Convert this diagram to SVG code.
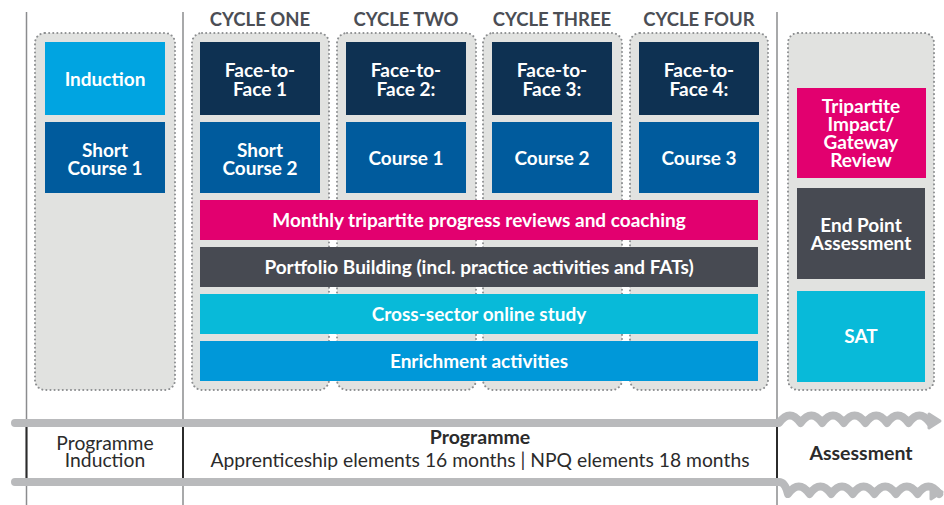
<svg xmlns="http://www.w3.org/2000/svg" width="944" height="505" viewBox="0 0 944 505">
<style>
.cont{fill:#e1e2e0;stroke:#8d8f91;stroke-width:2;stroke-dasharray:0.1 4;stroke-linecap:round}
.bt{font-family:Lato,"Open Sans",sans-serif;font-weight:bold;font-size:19px;fill:#fff;text-anchor:middle}
.hd{font-family:Lato,"Open Sans",sans-serif;font-weight:bold;font-size:18.5px;fill:#4b4e55;text-anchor:middle}
.ft{font-family:Lato,"Open Sans",sans-serif;font-size:19.3px;fill:#2b2b2b;text-anchor:middle}
.fb{font-family:Lato,"Open Sans",sans-serif;font-size:19.5px;font-weight:bold;fill:#2b2b2b;text-anchor:middle}
.vl{stroke:#8b8c8e;stroke-width:1.5}
.vd{stroke:#2b2b2b;stroke-width:2}
.gl{stroke:#b9babc;stroke-width:8;stroke-linecap:round;fill:none;stroke-linejoin:round}
</style>
<rect width="944" height="505" fill="#fff"/>
<g id="grid">
<line class="vl" x1="26.5" y1="12" x2="26.5" y2="505"/>
<line class="vl" x1="183" y1="12" x2="183" y2="505"/>
<line class="vl" x1="777" y1="12" x2="777" y2="505"/>
<line class="vd" x1="26.5" y1="427" x2="26.5" y2="478"/>
<line class="vd" x1="183" y1="427" x2="183" y2="478"/>
<line class="vd" x1="777" y1="427" x2="777" y2="478"/>
</g>
<g id="headers">
<text class="hd" x="260" y="26">CYCLE ONE</text>
<text class="hd" x="406" y="26">CYCLE TWO</text>
<text class="hd" x="552" y="26">CYCLE THREE</text>
<text class="hd" x="699" y="26">CYCLE FOUR</text>
</g>
<g id="containers">
<rect class="cont" x="35" y="33" width="140" height="357" rx="10"/>
<rect class="cont" x="192" y="33" width="137" height="357" rx="10"/>
<rect class="cont" x="337" y="33" width="139" height="357" rx="10"/>
<rect class="cont" x="483" y="33" width="139" height="357" rx="10"/>
<rect class="cont" x="630" y="33" width="138" height="357" rx="10"/>
<rect class="cont" x="788" y="33" width="146" height="357" rx="10"/>
</g>
<g id="induction"><rect x="45" y="42" width="120" height="73" fill="#00a4e1"/><text class="bt" x="105" y="86">Induction</text></g>
<g id="short-course-1"><rect x="45" y="122" width="120" height="71" fill="#005b9d"/><text class="bt" x="105" y="157">Short</text><text class="bt" x="105" y="175">Course 1</text></g>
<g id="f2f1"><rect x="200" y="42" width="120" height="73" fill="#0e3152"/><text class="bt" x="260" y="77">Face-to-</text><text class="bt" x="260" y="96">Face 1</text></g>
<g id="short-course-2"><rect x="200" y="122" width="120" height="71" fill="#005b9d"/><text class="bt" x="260" y="157">Short</text><text class="bt" x="260" y="175">Course 2</text></g>
<g id="f2f2"><rect x="346" y="42" width="120" height="73" fill="#0e3152"/><text class="bt" x="406" y="77">Face-to-</text><text class="bt" x="406" y="96">Face 2:</text></g>
<g id="course-1"><rect x="346" y="122" width="120" height="71" fill="#005b9d"/><text class="bt" x="406" y="165">Course 1</text></g>
<g id="f2f3"><rect x="492" y="42" width="120" height="73" fill="#0e3152"/><text class="bt" x="552" y="77">Face-to-</text><text class="bt" x="552" y="96">Face 3:</text></g>
<g id="course-2"><rect x="492" y="122" width="120" height="71" fill="#005b9d"/><text class="bt" x="552" y="165">Course 2</text></g>
<g id="f2f4"><rect x="639" y="42" width="120" height="73" fill="#0e3152"/><text class="bt" x="699" y="77">Face-to-</text><text class="bt" x="699" y="96">Face 4:</text></g>
<g id="course-3"><rect x="639" y="122" width="120" height="71" fill="#005b9d"/><text class="bt" x="699" y="165">Course 3</text></g>
<g id="monthly"><rect x="200" y="200" width="558" height="40" fill="#e2006f"/><text class="bt" x="479" y="227">Monthly tripartite progress reviews and coaching</text></g>
<g id="portfolio"><rect x="200" y="247" width="558" height="40" fill="#474a52"/><text class="bt" x="479" y="274">Portfolio Building (incl. practice activities and FATs)</text></g>
<g id="cross-sector"><rect x="200" y="294" width="558" height="40" fill="#08bad9"/><text class="bt" x="479" y="321">Cross-sector online study</text></g>
<g id="enrichment"><rect x="200" y="341" width="558" height="40" fill="#0098d9"/><text class="bt" x="479" y="368">Enrichment activities</text></g>
<g id="tripartite"><rect x="797" y="88" width="129" height="90" fill="#e2006f"/><text class="bt" x="861" y="113">Tripartite</text><text class="bt" x="861" y="131">Impact/</text><text class="bt" x="861" y="149">Gateway</text><text class="bt" x="861" y="167">Review</text></g>
<g id="epa"><rect x="797" y="188" width="128" height="91" fill="#474a52"/><text class="bt" x="861" y="232">End Point</text><text class="bt" x="861" y="250">Assessment</text></g>
<g id="sat"><rect x="797" y="291" width="128" height="91" fill="#08bad9"/><text class="bt" x="861" y="343">SAT</text></g>
<g id="connectors">
<path class="gl" d="M15,423 L779,423 q10.8,-15 21.6,0 q10.8,-15 21.6,0 q10.8,-15 21.6,0 q10.8,-15 21.6,0 q10.8,-15 21.6,0 q10.8,-15 21.6,0 q10.8,-15 21.6,0"/>
<polygon points="929,414 940,421 929,428" fill="#b9babc" stroke="#b9babc" stroke-width="3" stroke-linejoin="round"/>
<path class="gl" d="M15,482 L779,482 q6,0 9,12 q10.8,-15 21.6,0 q10.8,-15 21.6,0 q10.8,-15 21.6,0 q10.8,-15 21.6,0 q10.8,-15 21.6,0 q10.8,-15 21.6,0 q10.8,-15 21.6,0"/>
<polygon points="931,485 942,492 931,499" fill="#b9babc" stroke="#b9babc" stroke-width="3" stroke-linejoin="round"/>
</g>
<g id="footer">
<text class="ft" x="105" y="450">Programme</text>
<text class="ft" x="105" y="467">Induction</text>
<text class="fb" x="480" y="444">Programme</text>
<text class="ft" x="480" y="467">Apprenticeship elements 16 months | NPQ elements 18 months</text>
<text class="fb" x="861" y="460">Assessment</text>
</g>
</svg>
